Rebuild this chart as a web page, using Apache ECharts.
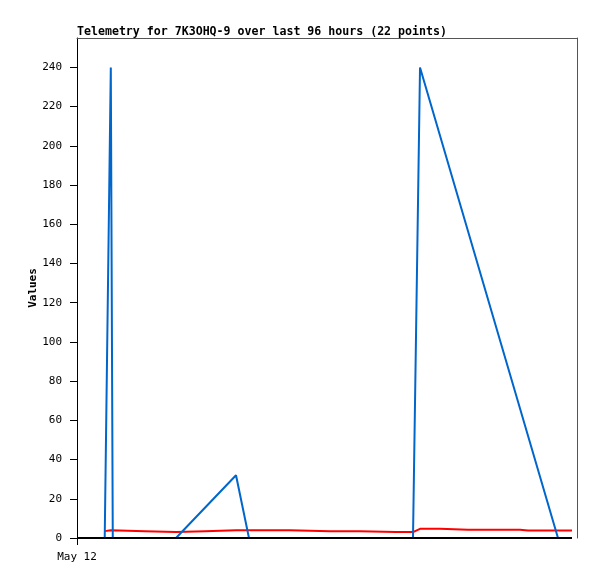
<!DOCTYPE html>
<html>
<head>
<meta charset="utf-8">
<script src="https://cdn.jsdelivr.net/npm/echarts@6/dist/echarts.min.js"></script>
<style>html,body{margin:0;padding:0;background:#fff}#c{width:597px;height:579px}</style>
</head>
<body>
<div id="c"></div>
<script>
// Hours since May 12 00:00
var blueHours  = [5.32, 6.49, 6.87, 19.01, 30.53, 33.02, 64.51, 65.86, 92.35, 95.04];
var blueValues = [0, 240, 0, 0, 32, 0, 0, 240, 0, 0];

var redHours  = [5.32, 6.49, 6.87, 13.06, 19.01, 24.58, 30.53, 33.02, 40.90, 48.58, 54.34, 61.25, 64.51, 65.86, 69.70, 75.07, 81.22, 85.06, 86.59, 95.04];
var redValues = [3.5, 4.0, 4.0, 3.5, 3.0, 3.5, 4.0, 4.0, 4.0, 3.5, 3.5, 3.0, 3.0, 4.7, 4.7, 4.2, 4.2, 4.2, 3.8, 3.8];

var blackHours  = [0, 95.04];
var blackValues = [0, 0];

var yTicks = [0, 20, 40, 60, 80, 100, 120, 140, 160, 180, 200, 220, 240];
var xTickLabels = ['May 12'];

function pairs(xs, ys) { return xs.map(function (x, i) { return [x, ys[i]]; }); }

var FONT = '"DejaVu Sans Mono", "Liberation Mono", monospace';
var chart = echarts.init(document.getElementById('c'), null, {renderer: 'canvas'});
chart.setOption({
  animation: false,
  backgroundColor: '#fff',
  title: {
    text: 'Telemetry for 7K3OHQ-9 over last 96 hours (22 points)',
    left: 77, top: 26, padding: 0,
    textStyle: {fontFamily: FONT, fontSize: 11.6, fontWeight: 'bold', color: '#000'}
  },
  grid: {left: 77, right: 20, top: 38, bottom: 41, containLabel: false},
  xAxis: [{
    type: 'value', min: 0, max: 96,
    axisLine: {show: false},
    splitLine: {show: false},
    axisTick: {show: true, customValues: [0], length: 7, lineStyle: {color: '#000'}},
    axisLabel: {customValues: [0], formatter: function () { return xTickLabels[0]; },
      fontFamily: FONT, fontSize: 11, color: '#000', margin: 14}
  }, {
    type: 'value', min: 0, max: 96, position: 'top',
    axisLine: {show: true, onZero: false, lineStyle: {color: '#555', width: 1}},
    axisTick: {show: false}, axisLabel: {show: false}, splitLine: {show: false}
  }],
  yAxis: [{
    type: 'value', min: 0, max: 255,
    axisLine: {show: true, onZero: false, lineStyle: {color: '#000', width: 1}},
    axisTick: {show: true, customValues: yTicks, length: 7, lineStyle: {color: '#000'}},
    axisLabel: {customValues: yTicks, fontFamily: FONT, fontSize: 11, color: '#000', margin: 15},
    splitLine: {show: false},
    name: 'Values', nameLocation: 'middle', nameGap: 38, nameMoveOverlap: false,
    nameTextStyle: {fontFamily: FONT, fontSize: 11, fontWeight: 'bold', color: '#000'}
  }, {
    type: 'value', min: 0, max: 255, position: 'right',
    axisLine: {show: true, onZero: false, lineStyle: {color: '#555', width: 1}},
    axisTick: {show: false}, axisLabel: {show: false}, splitLine: {show: false}
  }],
  series: [{
    type: 'line', data: pairs(redHours, redValues), showSymbol: false, symbol: 'none',
    lineStyle: {color: '#ff0000', width: 2}, z: 2
  }, {
    type: 'line', data: pairs(blueHours, blueValues), showSymbol: false, symbol: 'none',
    lineStyle: {color: '#0066cc', width: 2}, z: 3
  }, {
    type: 'line', data: pairs(blackHours, blackValues), showSymbol: false, symbol: 'none',
    lineStyle: {color: '#000', width: 2}, z: 4
  }]
});
</script>
</body>
</html>
